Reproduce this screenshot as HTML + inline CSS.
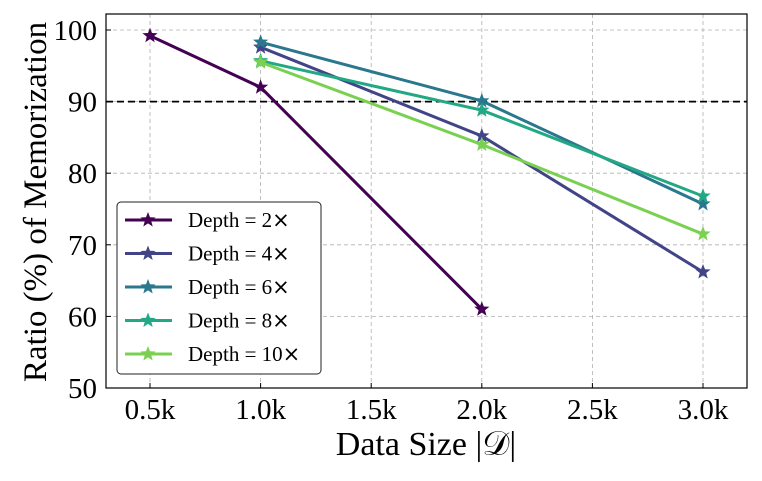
<!DOCTYPE html>
<html><head><meta charset="utf-8"><style>
body{margin:0;background:#fff;}
svg{display:block;font-family:"Liberation Serif",serif;}
</style></head><body>
<svg id="chart" width="762" height="481"></svg>
<script>
const xTicks=[0.5,1.0,1.5,2.0,2.5,3.0];
const xTickLabels=["0.5k","1.0k","1.5k","2.0k","2.5k","3.0k"];
const yTicks=[50,60,70,80,90,100];
const seriesNames=["Depth = 2","Depth = 4","Depth = 6","Depth = 8","Depth = 10"];
const seriesColors=["#440154","#414487","#2a788e","#22a884","#7ad151"];
const d2x=[0.5,1.0,2.0], d2y=[99.2,92.0,61.0];
const d4x=[1.0,2.0,3.0], d4y=[97.6,85.2,66.2];
const d6x=[1.0,2.0,3.0], d6y=[98.3,90.1,75.7];
const d8x=[1.0,2.0,3.0], d8y=[95.7,88.8,76.8];
const d10x=[1.0,2.0,3.0], d10y=[95.5,84.0,71.5];
const threshold=90;
const allX=[d2x,d4x,d6x,d8x,d10x], allY=[d2y,d4y,d6y,d8y,d10y];

const L=106,R=747,T=14,B=388;
const X=v=>150+(v-0.5)*(703-150)/2.5;
const Y=v=>388-(v-50)*(388-30)/50;
const svg=document.getElementById('chart');
const NS='http://www.w3.org/2000/svg';
function mk(t,a,p){const e=document.createElementNS(NS,t);for(const k in a)e.setAttribute(k,a[k]);(p||svg).appendChild(e);return e;}
function star(cx,cy,r){let p=[];for(let i=0;i<10;i++){const rr=i%2?r*0.42:r;const a=-Math.PI/2+i*Math.PI/5;p.push((cx+rr*Math.cos(a)).toFixed(1)+','+(cy+rr*Math.sin(a)).toFixed(1));}return p.join(' ');}

xTicks.forEach((v,i)=>{
 const g=mk('line',{x1:X(v),x2:X(v),y1:T,y2:B,stroke:'#b0b0b0','stroke-dasharray':'4,3','stroke-width':0.8});
 
 mk('line',{x1:X(v),x2:X(v),y1:B,y2:B-5,stroke:'#000'});
 const t=mk('text',{x:X(v),y:419,'text-anchor':'middle','font-size':29});t.textContent=xTickLabels[i];
 
});
yTicks.forEach(v=>{
 const g=mk('line',{x1:L,x2:R,y1:Y(v),y2:Y(v),stroke:'#b0b0b0','stroke-dasharray':'4,3','stroke-width':0.8});
 
 mk('line',{x1:L,x2:L+5,y1:Y(v),y2:Y(v),stroke:'#000'});
 const t=mk('text',{x:97,y:Y(v)+10,'text-anchor':'end','font-size':29});t.textContent=v;
 
});
const th=mk('line',{x1:L,x2:R,y1:Y(threshold),y2:Y(threshold),stroke:'#000','stroke-width':1.8,'stroke-dasharray':'7,4'});


allX.forEach((xs,s)=>{
 const g=mk('g',{});
 
 mk('polyline',{points:xs.map((x,i)=>X(x)+','+Y(allY[s][i])).join(' '),fill:'none',stroke:seriesColors[s],'stroke-width':3},g);
 xs.forEach((x,i)=>{const p=mk('polygon',{points:star(X(x),Y(allY[s][i]),8),fill:seriesColors[s]},g);
  });
});

const fr=mk('rect',{x:L,y:T,width:R-L,height:B-T,fill:'none',stroke:'#000','stroke-width':1.2});


const lg=mk('g',{});

mk('rect',{x:117,y:202,width:204,height:172,rx:4,fill:'#fff',stroke:'#222','stroke-width':1},lg);
seriesNames.forEach((n,i)=>{
 const y=220+i*33.5;
 const e=mk('g',{},lg);
 
 mk('line',{x1:125,x2:172,y1:y,y2:y,stroke:seriesColors[i],'stroke-width':3},e);
 mk('polygon',{points:star(148,y,8),fill:seriesColors[i]},e);
 const t=mk('text',{x:188,y:y+7,'font-size':21},e);t.textContent=n;
 const m=mk('tspan',{'font-family':'"DejaVu Sans",sans-serif','font-size':21},t);m.textContent='×';
});

const xt=mk('text',{x:426,y:455,'text-anchor':'middle','font-size':34});xt.textContent='Data Size |𝒟|';

const yt=mk('text',{x:0,y:0,'text-anchor':'middle','font-size':33,transform:'translate(46,202) rotate(-90)'});yt.textContent='Ratio (%) of Memorization';

</script>
</body></html>
